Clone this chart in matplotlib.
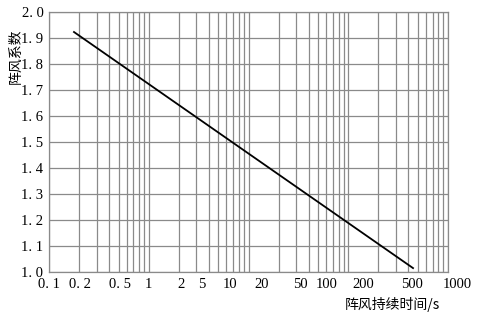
import numpy as np
import matplotlib
matplotlib.use("Agg")
import matplotlib.pyplot as plt
import matplotlib.transforms as mtransforms

# gust factor line (two end points, straight on log-x)
duration = [0.178, 446]
gust_factor = [1.923, 1.015]

# x tick labels, placed where they sit in the original figure
xlabel_pos = [0.1, 0.205, 0.51, 1.0, 2.1, 3.42, 6.5, 13.6, 32.8, 61.2, 140.6, 435, 1230]
xlabel_txt = ["0.1", "0.2", "0.5", "1", "2", "5", "10", "20", "50", "100", "200", "500", "1000"]

yticks = np.round(np.arange(1.0, 2.01, 0.1), 1)

num_font = "Liberation Serif"
cjk_font = ["Noto Sans CJK SC", "DejaVu Sans"]
grid_c = "#8a8a8a"

fig = plt.figure(figsize=(4.79, 3.25), dpi=100)
ax = fig.add_axes([0.1023, 0.1631, 0.8330, 0.8000])

ax.set_xscale("log")
ax.set_xlim(0.1, 1000)
ax.set_ylim(1.0, 2.0)

# grid: every 1..9 within each decade, every 0.1 on y
minor = [m * 10.0 ** e for e in range(-1, 3) for m in range(1, 10)] + [1000]
for xv in minor:
    ax.axvline(xv, color=grid_c, lw=0.9, zorder=1)
for yv in yticks:
    ax.axhline(yv, color=grid_c, lw=0.9, zorder=1)

ax.plot(duration, gust_factor, color="black", lw=1.3, zorder=3)

ax.set_xticks([])
ax.set_xticks([], minor=True)
ax.set_yticks(yticks)
ax.set_yticklabels([f"{v:.1f}".replace(".", ". ") for v in yticks],
                   family=num_font, fontsize=10.5)
ax.tick_params(axis="y", length=0, pad=4)

trans = mtransforms.blended_transform_factory(ax.transData, ax.transAxes)
for xp, t in zip(xlabel_pos, xlabel_txt):
    ax.text(xp, -0.05, t.replace(".", ". "), transform=trans, ha="center", va="center",
            family=num_font, fontsize=10.5, clip_on=False)

for s in ax.spines.values():
    s.set_color(grid_c)
    s.set_linewidth(0.9)

fig.text(0.032, 0.828, "阵风系数", rotation=90, ha="center", va="center",
         family=cjk_font, fontsize=10)
fig.text(0.918, 0.062, "阵风持续时间/s", ha="right", va="center",
         family=cjk_font, fontsize=10)

fig.savefig("out.png", dpi=100)
